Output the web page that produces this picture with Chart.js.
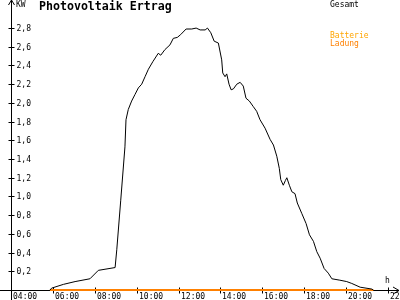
<!DOCTYPE html>
<html><head><meta charset="utf-8">
<script src="https://cdn.jsdelivr.net/npm/chart.js@4"></script>
<style>html,body{margin:0;padding:0;background:#fff;}canvas{display:block;}</style>
</head><body>
<canvas id="c" width="400" height="300"></canvas>
<script>
const title = "Photovoltaik Ertrag";
const hours = [5.86,5.94,6.50,7.06,7.77,8.17,8.97,9.05,9.24,9.44,9.49,9.60,9.76,9.92,10.08,10.24,10.40,10.56,10.77,11.03,11.15,11.35,11.59,11.75,11.94,12.10,12.36,12.63,12.84,13.03,13.27,13.38,13.54,13.70,13.90,14.06,14.11,14.22,14.30,14.41,14.51,14.62,14.78,14.94,15.09,15.22,15.38,15.57,15.73,15.89,16.13,16.37,16.53,16.69,16.81,16.88,17.00,17.10,17.17,17.29,17.41,17.56,17.67,17.88,18.09,18.25,18.44,18.60,18.76,18.95,19.15,19.32,19.70,20.03,20.27,20.67,21.23,21.30];
const gesamt = [0,0.02,0.06,0.09,0.12,0.21,0.24,0.43,0.96,1.53,1.82,1.93,2.02,2.09,2.16,2.20,2.28,2.36,2.44,2.53,2.51,2.57,2.62,2.69,2.70,2.73,2.79,2.79,2.80,2.78,2.78,2.80,2.75,2.66,2.64,2.46,2.32,2.28,2.31,2.20,2.14,2.15,2.20,2.22,2.18,2.05,2.02,1.96,1.91,1.82,1.73,1.61,1.55,1.43,1.30,1.18,1.12,1.17,1.20,1.12,1.05,1.03,0.93,0.82,0.71,0.59,0.52,0.41,0.34,0.23,0.18,0.12,0.105,0.09,0.07,0.03,0.01,0];
const ladungHours = [5.86,21.30];
const ladung = [0,0];
const yTicks = [0.2,0.4,0.6,0.8,1.0,1.2,1.4,1.6,1.8,2.0,2.2,2.4,2.6,2.8];
const yTickLabels = ["0,2","0,4","0,6","0,8","1,0","1,2","1,4","1,6","1,8","2,0","2,2","2,4","2,6","2,8"];
const xTicks = [4,6,8,10,12,14,16,18,20,22];
const xTickLabels = ["04:00","06:00","08:00","10:00","12:00","14:00","16:00","18:00","20:00","22:00"];

const mono = '"DejaVu Sans Mono", "Liberation Mono", monospace';

const decor = {
  id: 'decor',
  beforeDatasetsDraw(chart) {
    const ctx = chart.ctx, xs = chart.scales.x, ys = chart.scales.y;
    ctx.save();
    ctx.strokeStyle = '#000'; ctx.lineWidth = 1;
    const ax = Math.round(xs.getPixelForValue(4)) + 0.5;
    const ay = Math.round(ys.getPixelForValue(0)) + 0.5;
    ctx.beginPath();
    ctx.moveTo(ax, 0); ctx.lineTo(ax, 300);
    ctx.moveTo(ax - 3, 5); ctx.lineTo(ax, 0); ctx.lineTo(ax + 3, 5);
    ctx.moveTo(0, ay); ctx.lineTo(399, ay);
    ctx.moveTo(393, ay - 3.5); ctx.lineTo(399, ay); ctx.lineTo(393, ay + 3.5);
    yTicks.forEach(v => {
      const y = Math.round(ys.getPixelForValue(v)) + 0.5;
      ctx.moveTo(ax - 3, y); ctx.lineTo(ax + 3, y);
    });
    xTicks.forEach(v => {
      const x = Math.round(xs.getPixelForValue(v)) + 0.5;
      ctx.moveTo(x, ay - 3); ctx.lineTo(x, ay + 3);
    });
    ctx.stroke();
    ctx.fillStyle = '#000';
    ctx.font = '8px ' + mono;
    ctx.textBaseline = 'middle'; ctx.textAlign = 'left';
    yTicks.forEach((v, i) => {
      ctx.fillText(yTickLabels[i], ax + 5, Math.round(ys.getPixelForValue(v)) + 0.5);
    });
    xTicks.forEach((v, i) => {
      ctx.fillText(xTickLabels[i], Math.round(xs.getPixelForValue(v)) + 2, 296.5);
    });
    ctx.fillText('KW', 16, 5);
    ctx.fillText('h', 385, 281);
    ctx.fillText('Gesamt', 330, 5);
    ctx.fillStyle = '#ffa500';
    ctx.fillText('Batterie', 330, 36);
    ctx.fillStyle = '#ff8000';
    ctx.fillText('Ladung', 330, 44);
    ctx.fillStyle = '#000';
    ctx.font = 'bold 11.6px ' + mono;
    ctx.fillText(title, 39, 7);
    ctx.restore();
  }
};

new Chart(document.getElementById('c'), {
  type: 'line',
  data: {
    datasets: [
      { label: 'Gesamt', data: hours.map((h, i) => ({x: h, y: gesamt[i]})), borderColor: '#000', borderWidth: 1, pointRadius: 0, tension: 0, fill: false, clip: false },
      { label: 'Batterie Ladung', data: ladungHours.map((h, i) => ({x: h, y: ladung[i]})), borderColor: '#ff8000', borderWidth: 2, pointRadius: 0, tension: 0, fill: false, clip: false }
    ]
  },
  options: {
    responsive: false, animation: false, devicePixelRatio: 1,
    layout: { padding: { left: 11, right: 12, top: 0, bottom: 10 } },
    plugins: { legend: { display: false }, tooltip: { enabled: false }, title: { display: false } },
    scales: {
      x: { type: 'linear', min: 4, max: 22, display: false },
      y: { min: 0, max: 3.1, display: false }
    }
  },
  plugins: [decor]
});
</script>
</body></html>
